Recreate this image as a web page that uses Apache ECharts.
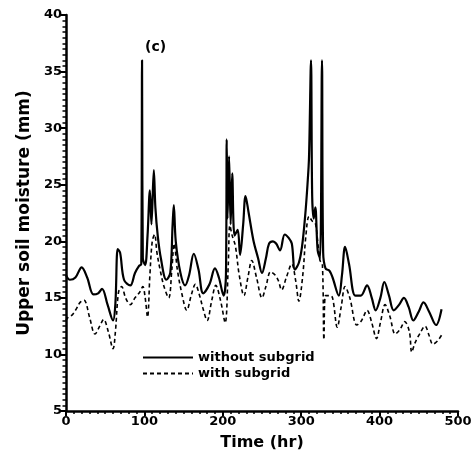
<!DOCTYPE html>
<html>
<head>
<meta charset="utf-8">
<script src="https://cdn.jsdelivr.net/npm/echarts@6/dist/echarts.min.js"></script>
<style>
  html, body { margin: 0; padding: 0; background: #fff; }
  #chart { width: 476px; height: 457px; }
</style>
</head>
<body>
<div id="chart"></div>
<script>
// time (hr) and upper soil moisture (mm)
const tWithout = [0, 5, 12, 20, 27, 35, 41, 46, 53, 60, 63, 66, 69, 74, 82, 88, 93, 96, 97, 98,
  101, 104, 107, 109, 112, 114, 117, 121, 128, 133, 136, 137.5, 140, 146, 152, 157, 163, 169, 175, 183,
  190, 195, 201, 204, 205, 206, 208, 210, 212, 215, 219, 222, 226, 229, 233, 239, 245, 250, 255, 259,
  264, 268, 273, 279, 284, 288, 292, 297, 301, 305, 308, 310, 312.5, 314, 316, 318, 321, 324, 326.5, 328,
  331, 336, 340, 348, 352, 356, 361, 369, 376, 384, 390, 395, 401, 406, 412, 418, 425, 431, 437, 443,
  450, 456, 463, 472, 479]
const vWithout = [17.0, 16.6, 16.8, 17.7, 16.8, 15.3, 15.4, 15.8, 14.4, 13.0, 14.5, 19.3, 19.0, 16.6, 16.1, 17.2, 17.8, 18.0, 36.0, 18.5,
  17.9, 20.5, 24.5, 21.5, 26.3, 23.0, 20.5, 18.5, 16.6, 17.2, 21.5, 23.2, 20.0, 17.2, 16.1, 17.0, 18.9, 17.5, 15.4, 16.2,
  17.6, 16.8, 15.2, 17.0, 29.0, 22.0, 27.5, 21.5, 26.0, 20.5, 21.0, 18.8, 21.5, 24.0, 22.5, 20.1, 18.5, 17.2, 18.5, 19.8,
  20.0, 19.8, 19.2, 20.6, 20.3, 19.8, 17.5, 18.1, 19.5, 22.2, 25.0, 27.5, 36.0, 24.0, 22.0, 23.0, 19.2, 18.5, 36.0, 19.0,
  17.6, 17.4, 16.8, 15.2, 17.0, 19.5, 18.0, 15.2, 15.2, 16.1, 15.0, 13.9, 15.0, 16.4, 15.2, 13.9, 14.4, 15.0, 14.2, 13.0,
  13.8, 14.6, 13.8, 12.6, 14.0]

const tWith = [0, 3, 8, 13, 18, 23, 30, 37, 43, 48, 54, 60, 63, 67, 71, 76, 82, 88, 94, 98,
  101, 104, 107, 110, 113, 116, 120, 125, 131, 135, 138, 142, 148, 154, 160, 165, 170, 175, 180, 186,
  191, 197, 203, 207, 209, 212, 216, 221, 227, 232, 237, 243, 250, 255, 261, 267, 271, 275, 281, 288,
  293, 297, 302, 306, 310, 314, 318, 321, 324, 327, 329, 331, 336, 340, 346, 351, 356, 362, 371, 377,
  384, 390, 396, 401, 407, 413, 420, 426, 432, 438, 441, 445, 451, 458, 463, 468, 474, 479]
const vWith = [13.0, 13.3, 13.5, 14.0, 14.6, 14.8, 13.3, 11.8, 12.5, 13.1, 12.0, 10.5, 12.0, 15.5, 16.0, 15.0, 14.4, 15.0, 15.5, 16.0,
  15.0, 13.3, 17.0, 20.0, 20.6, 19.0, 17.5, 16.0, 15.0, 17.5, 19.8, 17.5, 15.3, 13.9, 15.3, 16.2, 15.3, 14.0, 13.0, 14.8,
  16.1, 14.8, 12.8, 18.0, 21.4, 20.5, 19.6, 17.0, 15.2, 16.8, 18.3, 16.8, 15.0, 16.0, 17.3, 17.0, 16.5, 15.7, 16.8, 18.0,
  16.5, 14.7, 17.0, 20.5, 22.2, 21.8, 21.6, 20.0, 18.3, 18.0, 11.3, 15.2, 15.2, 15.0, 12.4, 14.2, 16.0, 15.0, 12.6, 13.0,
  13.9, 12.8, 11.4, 12.8, 14.4, 13.4, 11.8, 12.2, 12.9, 12.0, 10.2, 11.0, 11.8, 12.5, 11.7, 10.9, 11.2, 11.7]

const seriesNames = ['without subgrid', 'with subgrid']
const xTicks = [0, 100, 200, 300, 400, 500]
const yTicks = [5, 10, 15, 20, 25, 30, 35, 40]

const font = 'DejaVu Sans'
const chart = echarts.init(document.getElementById('chart'))

const option = {
  backgroundColor: '#fff',
  animation: false,
  title: {
    text: '(c)',
    left: 140,
    top: 35,
    textStyle: { fontFamily: font, fontWeight: 'bold', fontSize: 14, color: '#000' }
  },
  legend: {
    left: 137,
    top: 346,
    orient: 'vertical',
    itemWidth: 50,
    itemHeight: 10,
    itemGap: 3,
    data: seriesNames,
    itemStyle: { opacity: 0 },
    textStyle: { fontFamily: font, fontWeight: 'bold', fontSize: 13, color: '#000' }
  },
  grid: { left: 66, right: 18, top: 15, bottom: 46 },
  xAxis: {
    type: 'value',
    min: xTicks[0],
    max: xTicks[xTicks.length - 1],
    interval: 100,
    name: 'Time (hr)',
    nameLocation: 'middle',
    nameGap: 24,
    nameTextStyle: { fontFamily: font, fontWeight: 'bold', fontSize: 16, color: '#000' },
    axisLine: { lineStyle: { color: '#000', width: 2.5 } },
    axisTick: { inside: false, length: 5, lineStyle: { color: '#000', width: 2 } },
    minorTick: { show: true, splitNumber: 10, length: 3, lineStyle: { color: '#000', width: 1.5 } },
    axisLabel: { fontFamily: font, fontWeight: 'bold', fontSize: 13, color: '#000', margin: 4 },
    splitLine: { show: false }
  },
  yAxis: {
    type: 'value',
    min: yTicks[0],
    max: yTicks[yTicks.length - 1],
    interval: 5,
    name: 'Upper soil moisture (mm)',
    nameLocation: 'middle',
    nameGap: 32,
    nameTextStyle: { fontFamily: font, fontWeight: 'bold', fontSize: 17, color: '#000' },
    axisLine: { lineStyle: { color: '#000', width: 2.5 } },
    axisTick: { inside: false, length: 5, lineStyle: { color: '#000', width: 2 } },
    minorTick: { show: true, splitNumber: 10, length: 3.5, lineStyle: { color: '#000', width: 1.5 } },
    axisLabel: { fontFamily: font, fontWeight: 'bold', fontSize: 13, color: '#000', margin: 4 },
    splitLine: { show: false }
  },
  series: [
    {
      name: seriesNames[0],
      type: 'line',
      data: tWithout.map((t, i) => [t, vWithout[i]]),
      symbol: 'none',
      smooth: 0.35,
      lineStyle: { color: '#000', width: 2.2 },
      itemStyle: { color: '#000' }
    },
    {
      name: seriesNames[1],
      type: 'line',
      data: tWith.map((t, i) => [t, vWith[i]]),
      symbol: 'none',
      smooth: 0.35,
      lineStyle: { color: '#000', width: 1.6, type: [4, 3] },
      itemStyle: { color: '#000' }
    }
  ]
}
chart.setOption(option)
</script>
</body>
</html>
